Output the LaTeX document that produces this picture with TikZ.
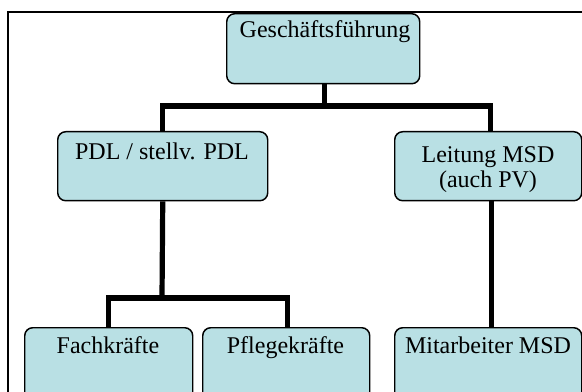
\documentclass[tikz,border=0pt]{standalone}
\usepackage{fontspec}
\setmainfont{Liberation Serif}
\definecolor{boxfill}{RGB}{185,224,228}
\begin{document}
\begin{tikzpicture}[x=0.75pt,y=-0.75pt,
  orgbox/.style={draw=black, fill=boxfill, line width=1.1pt, rounded corners=6pt,
    inner sep=0pt, anchor=north west, minimum width=#1*0.75pt},
  boxh/.style={minimum height=#1*0.75pt},
  lbl/.style={font=\fontsize{18}{18.75}\selectfont, inner sep=0pt, align=center},
  conn/.style={line width=3.9pt, draw=black, line join=miter}]
\useasboundingbox (0,0) rectangle (582,392);
\clip (0,0) rectangle (582,392);
\fill[white] (0,0) rectangle (582,392);
% frame
\draw[line width=1.2pt] (8,12) rectangle (620,430);
% boxes
\node[orgbox=193, boxh=70] (gf) at (226,13) {};
\node[orgbox=210, boxh=69] (pdl) at (57,131) {};
\node[orgbox=187, boxh=69] (msd) at (394,131) {};
\node[orgbox=168, boxh=90] (fach) at (24,327) {};
\node[orgbox=167, boxh=90] (pflege) at (202,327) {};
\node[orgbox=187, boxh=90] (mit) at (394,327) {};
% labels
\node[lbl, anchor=base] (gf-t) at (325,38) {Geschäftsführung};
\node[lbl, anchor=base] (pdl-t) at (162,160) {PDL / stellv. PDL};
\node[lbl, anchor=base] (msd-t1) at (488,163) {Leitung MSD};
\node[lbl, anchor=base] (msd-t2) at (488,188) {(auch PV)};
\node[lbl, anchor=base] (fach-t) at (108,353) {Fachkräfte};
\node[lbl, anchor=base] (pflege-t) at (285.5,353) {Pflegekräfte};
\node[lbl, anchor=base] (mit-t) at (488,353) {Mitarbeiter MSD};
% connectors
\coordinate (bus1) at (324,106);
\coordinate (bus2) at (162,298);
\draw[conn] ([xshift=1.1pt]gf.south) -- ([xshift=1.1pt]gf.south |- bus1);
\draw[conn] (pdl.north) |- (bus1) -| ([xshift=1.5pt]msd.north);
\draw[conn] (pdl.south) -- (bus2);
\draw[conn] (fach.north) |- (bus2) -| ([xshift=1.1pt]pflege.north);
\draw[conn] ([xshift=2.2pt]msd.south) -- ([xshift=2.2pt]mit.north);
\end{tikzpicture}
\end{document}
